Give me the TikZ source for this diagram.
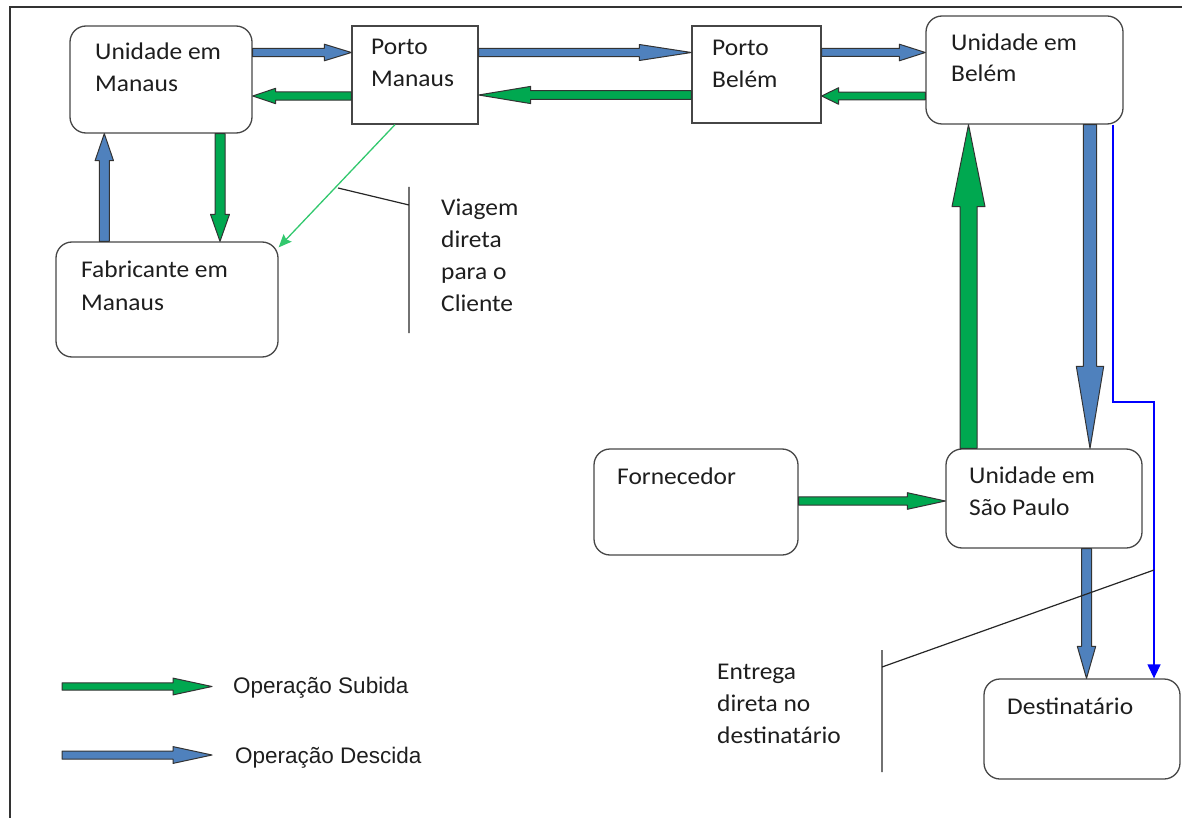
\documentclass[tikz,border=0pt]{standalone}
\usepackage{fontspec}
\setmainfont[FakeStretch=1.06]{Carlito}
\newfontfamily\legendfont{Liberation Sans}
\usetikzlibrary{calc,arrows.meta}
\definecolor{opgreen}{RGB}{0,168,80}
\definecolor{opblue}{RGB}{79,129,189}
\definecolor{thingreen}{RGB}{50,200,110}
\definecolor{thinblue}{RGB}{0,0,255}
\definecolor{txt}{RGB}{30,30,30}
\definecolor{edge}{RGB}{70,70,70}
% block arrow: #1 from, #2 to, #3 half shaft, #4 half head, #5 head length, #6 fill
\newcommand\blockarr[6]{%
  \coordinate (baS) at (#1);
  \coordinate (baE) at (#2);
  \coordinate (baH) at ($(baE)!#5!(baS)$);
  \filldraw[fill=#6, draw=black!80, line width=1pt, line join=round]
    ($(baS)!#3!90:(baE)$) -- ($(baH)!#3!90:(baE)$) -- ($(baH)!#4!90:(baE)$) -- (baE)
    -- ($(baH)!#4!-90:(baE)$) -- ($(baH)!#3!-90:(baE)$) -- ($(baS)!#3!-90:(baE)$) -- cycle;}
\begin{document}
\begin{tikzpicture}[x=1pt,y=-1pt,
  rbox/.style={draw=edge, line width=1.3pt, rounded corners=16pt, inner sep=0pt},
  sbox/.style={draw=edge, line width=1.3pt, inner sep=0pt},
  lbl/.style={inner sep=0pt, align=left, text=txt, anchor=base west,
    font=\fontsize{24}{31.5}\selectfont},
  leg/.style={inner sep=0pt, text=txt, anchor=base west,
    font=\legendfont\fontsize{22.5}{27}\selectfont},
  callout/.style={draw=black!85, line width=1.2pt},
  border/.style={draw=black!80, line width=1.4pt}]
\useasboundingbox (0,0) rectangle (1182,818);
\draw[border] (10,818) -- (10,7) -- (1182,7);

% boxes
\node[rbox, minimum width=182pt, minimum height=107pt] (um) at (161,79.5) {};
\node[sbox, minimum width=126pt, minimum height=98pt] (pm) at (415,75) {};
\node[sbox, minimum width=129pt, minimum height=97pt] (pb) at (756.5,74.5) {};
\node[rbox, minimum width=197pt, minimum height=108pt] (ub) at (1024.5,70) {};
\node[rbox, minimum width=222pt, minimum height=115pt] (fm) at (167,299.5) {};
\node[rbox, minimum width=204pt, minimum height=106pt] (fo) at (696,502) {};
\node[rbox, minimum width=196pt, minimum height=99pt] (sp) at (1044,498.5) {};
\node[rbox, minimum width=196pt, minimum height=100pt] (de) at (1082,729) {};

% texts (base anchor = baseline of the last line)
\node[lbl] (umt) at (95,91.5) {Unidade em\\Manaus};
\node[lbl] (pmt) at (371,86.5) {Porto\\Manaus};
\node[lbl] (pbt) at (712,87.5) {Porto\\Belém};
\node[lbl] (ubt) at (951,82) {Unidade em\\Belém};
\node[lbl, font=\fontsize{24}{33}\selectfont] (fmt) at (81,310) {Fabricante em\\Manaus};
\node[lbl] (fot) at (617,484) {Fornecedor};
\node[lbl] (spt) at (969,515) {Unidade em\\São Paulo};
\node[lbl] (det) at (1007,714) {Destinatário};
\node[lbl, font=\fontsize{24}{32}\selectfont] (vt) at (441,311.7) {Viagem\\direta\\para o\\Cliente};
\node[lbl, font=\fontsize{24}{32}\selectfont] (et) at (717,743.3) {Entrega\\direta no\\destinatário};

% block arrows
\blockarr{um.east |- 0,52.5}{pm.west |- 0,52.5}{4.2pt}{8.3pt}{27pt}{opblue}
\blockarr{pm.west |- 0,96}{um.east |- 0,96}{4.2pt}{7.7pt}{23pt}{opgreen}
\blockarr{pm.east |- 0,52.5}{pb.west |- 0,52.5}{4.2pt}{8pt}{52pt}{opblue}
\blockarr{pb.west |- 0,95}{pm.east |- 0,95}{4.3pt}{8.6pt}{52pt}{opgreen}
\blockarr{pb.east |- 0,52.5}{ub.west |- 0,52.5}{4pt}{8.3pt}{26pt}{opblue}
\blockarr{ub.west |- 0,96}{pb.east |- 0,96}{3.8pt}{8.3pt}{17pt}{opgreen}
\blockarr{fm.north -| 104.3,0}{um.south -| 104.3,0}{5pt}{9.2pt}{27pt}{opblue}
\blockarr{um.south -| 220,0}{fm.north -| 220,0}{5pt}{9.5pt}{27pt}{opgreen}
\blockarr{sp.north -| 968.5,0}{ub.south -| 968.5,0}{8.5pt}{16.5pt}{82pt}{opgreen}
\blockarr{ub.south -| 1090,0}{sp.north -| 1090,0}{6.7pt}{13.7pt}{82pt}{opblue}
\blockarr{sp.south -| 1086.5,0}{de.north -| 1086.5,0}{5pt}{9.2pt}{32pt}{opblue}
\blockarr{fo.east |- 0,501}{sp.west |- 0,501}{4.2pt}{8.3pt}{38pt}{opgreen}

% direct trip
\draw[thingreen, line width=1.3pt, -{Stealth[length=13pt,width=11pt,inset=2pt]}]
  (pm.south -| 395,0) -- ($(fm.north east)+(0,6)$);
\coordinate (c1a) at (338,188);
\coordinate (c1b) at (409,205);
\coordinate (c1c) at (409,187);
\coordinate (c1d) at (409,333);
\draw[callout] (c1a) -- (c1b) (c1c) -- (c1d);

% direct delivery
\coordinate (bend) at (1154,402);
\draw[thinblue, line width=1.3pt, -{Triangle[length=14pt,width=13pt]}]
  (ub.south -| 1113,0) |- (bend) -- (de.north -| bend);
\coordinate (c2a) at (1154,570);
\coordinate (c2b) at (882,667);
\coordinate (c2c) at (882,650);
\coordinate (c2d) at (882,772);
\draw[callout] (c2a) -- (c2b) (c2c) -- (c2d);

% legend
\coordinate (lg1) at (62,686.5);
\coordinate (lg2) at (212,686.5);
\coordinate (lb1) at (62,755);
\coordinate (lb2) at (212,755);
\blockarr{lg1}{lg2}{3.7pt}{8.4pt}{39pt}{opgreen}
\blockarr{lb1}{lb2}{4pt}{8.4pt}{39pt}{opblue}
\node[leg] (lgt) at (233,693.3) {Operação Subida};
\node[leg] (lbt) at (235,763.3) {Operação Descida};
\end{tikzpicture}
\end{document}
